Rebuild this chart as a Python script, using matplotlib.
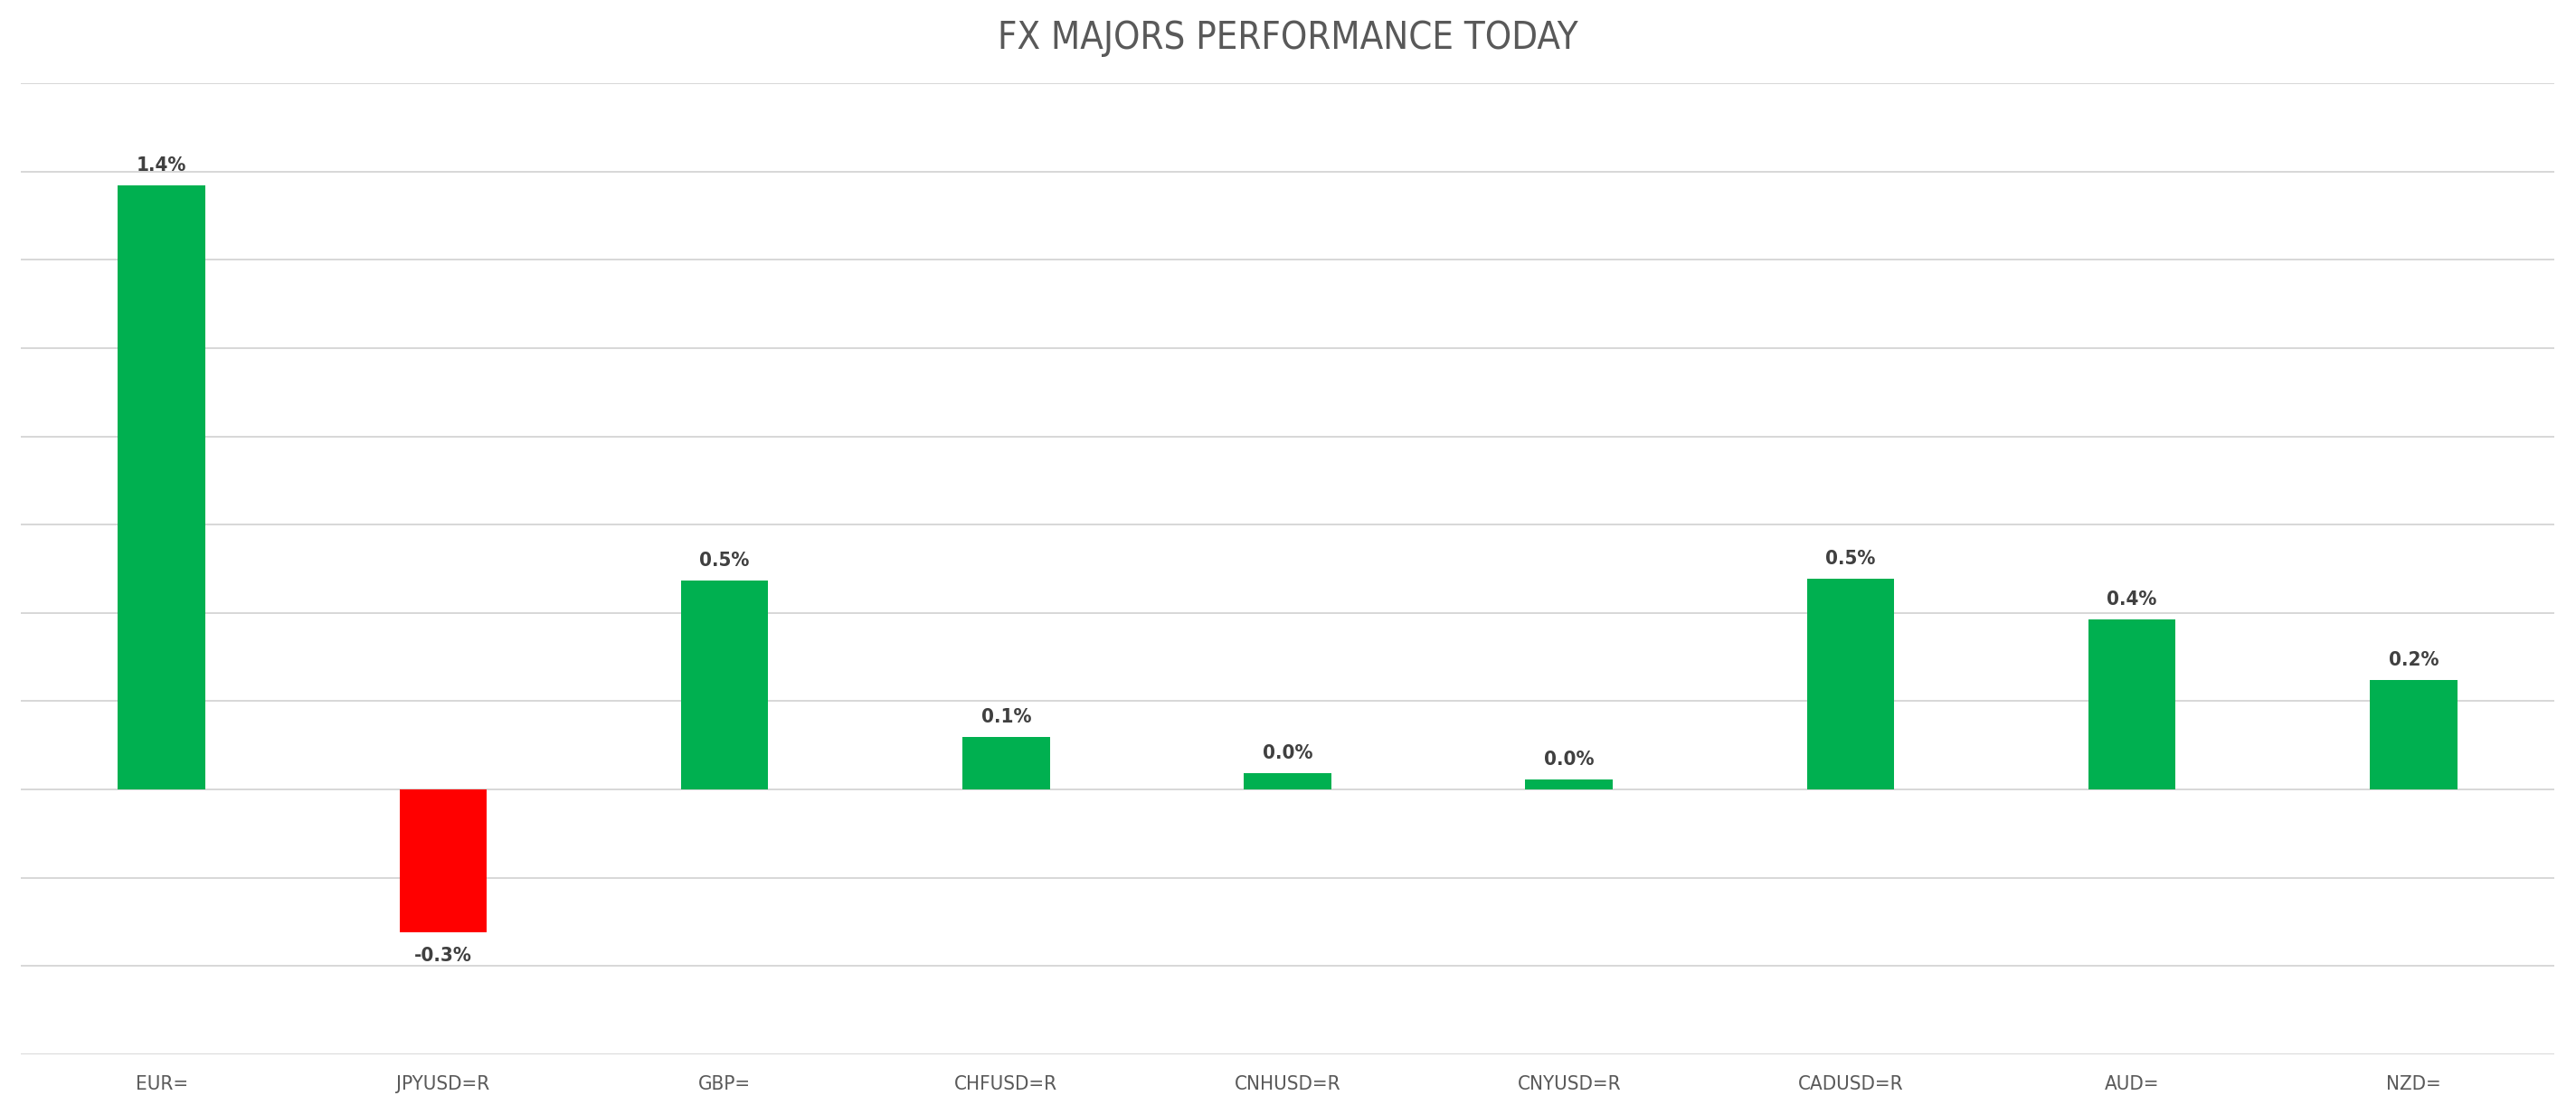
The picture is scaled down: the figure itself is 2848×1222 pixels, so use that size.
import matplotlib
matplotlib.use("Agg")
import matplotlib.pyplot as plt
from matplotlib import font_manager

categories = ["EUR=", "JPYUSD=R", "GBP=", "CHFUSD=R", "CNHUSD=R", "CNYUSD=R", "CADUSD=R", "AUD=", "NZD="]
values = [1.368, -0.324, 0.473, 0.120, 0.038, 0.023, 0.477, 0.385, 0.249]
labels = ["1.4%", "-0.3%", "0.5%", "0.1%", "0.0%", "0.0%", "0.5%", "0.4%", "0.2%"]
title = "FX MAJORS PERFORMANCE TODAY"

names = {f.name for f in font_manager.fontManager.ttflist}
if "Liberation Sans Narrow" in names:
    fam = ["Liberation Sans Narrow", "DejaVu Sans"]
    stretch = "normal"
else:
    fam = ["DejaVu Sans"]
    stretch = "condensed"
plt.rcParams["font.family"] = fam

W, H = 2848, 1222
fig = plt.figure(figsize=(W / 100, H / 100), dpi=100)
ax = fig.add_axes([23 / W, (H - 1166) / H, (2824 - 23) / W, (1166 - 92) / H])

colors = ["#00B050" if v >= 0 else "#FF0000" for v in values]
x = list(range(len(categories)))
ax.bar(x, values, width=0.31, color=colors, zorder=3)

ax.set_xlim(-0.5, len(categories) - 0.5)
ax.set_ylim(-0.6, 1.6)
ax.set_yticks([round(-0.6 + 0.2 * i, 1) for i in range(12)])
ax.yaxis.grid(True, color="#d4d4d4", linewidth=1.3, zorder=0)
ax.set_axisbelow(True)
ax.tick_params(axis="y", left=False, labelleft=False)
ax.tick_params(axis="x", bottom=False, pad=13)
ax.set_xticks(x)
ax.set_xticklabels(categories, fontsize=16, color="#595959", fontstretch=stretch)
for s in ax.spines.values():
    s.set_visible(False)

for xi, v, lab in zip(x, values, labels):
    if v >= 0:
        ax.annotate(lab, (xi, v), xytext=(0, 8.5), textcoords="offset points",
                    ha="center", va="bottom", fontsize=16, fontweight="bold",
                    color="#404040", fontstretch=stretch)
    else:
        ax.annotate(lab, (xi, v), xytext=(0, -11), textcoords="offset points",
                    ha="center", va="top", fontsize=16, fontweight="bold",
                    color="#404040", fontstretch=stretch)

fig.text(0.5, 1 - 42 / H, title, ha="center", va="center", fontsize=30,
         color="#595959", fontstretch=stretch)

fig.savefig("out.png", dpi=100, facecolor="white")
